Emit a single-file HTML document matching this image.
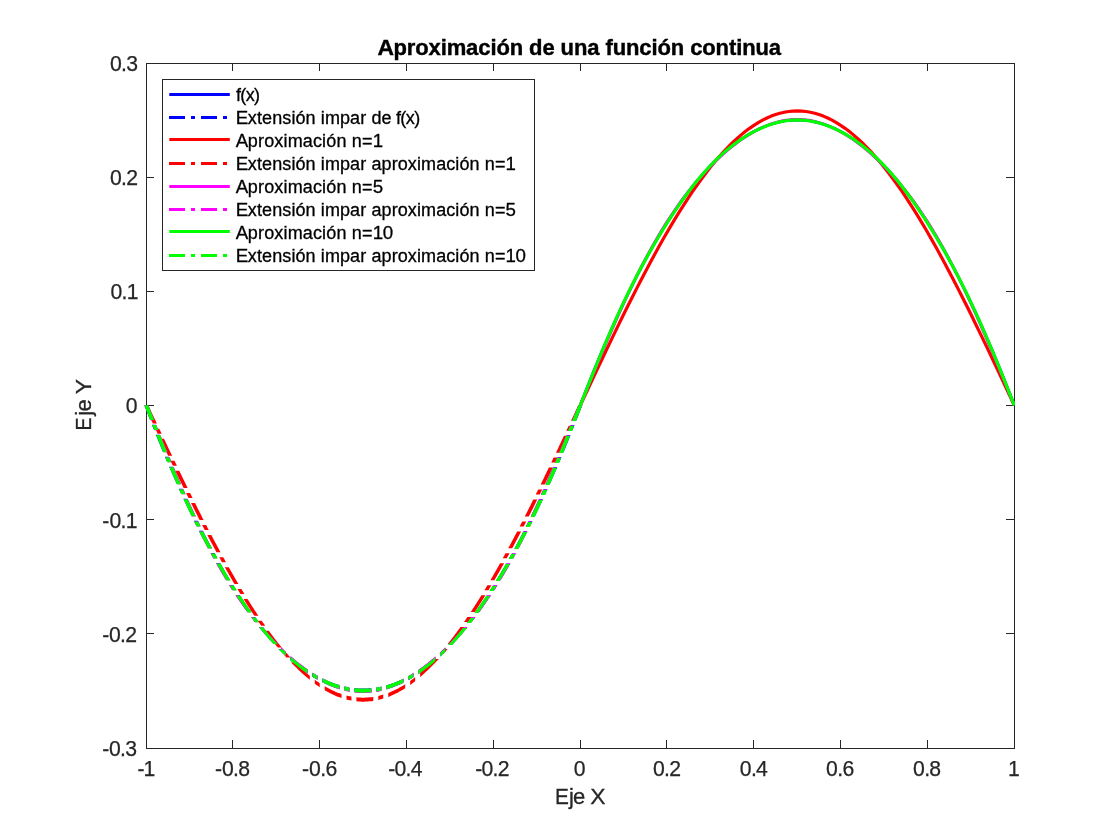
<!DOCTYPE html>
<html lang="es">
<head>
<meta charset="utf-8">
<title>Aproximación de una función continua</title>
<style>
html,body{margin:0;padding:0;background:#fff;}
body{width:1120px;height:840px;overflow:hidden;}
svg{display:block;}
text{white-space:pre;}
</style>
</head>
<body>
<svg width="1120" height="840" viewBox="0 0 1120 840">
<rect width="1120" height="840" fill="#fff"/>
<g stroke="#262626" stroke-width="1" fill="none" shape-rendering="crispEdges">
<rect x="146.5" y="63.5" width="868.0" height="685.0"/>
<path d="M232.5 748.5v-8.5M232.5 63.5v7.5M319.5 748.5v-8.5M319.5 63.5v7.5M406.5 748.5v-8.5M406.5 63.5v7.5M493.5 748.5v-8.5M493.5 63.5v7.5M580.5 748.5v-8.5M580.5 63.5v7.5M666.5 748.5v-8.5M666.5 63.5v7.5M753.5 748.5v-8.5M753.5 63.5v7.5M840.5 748.5v-8.5M840.5 63.5v7.5M927.5 748.5v-8.5M927.5 63.5v7.5M146.5 177.5h7.5M1014.5 177.5h-8.5M146.5 291.5h7.5M1014.5 291.5h-8.5M146.5 405.5h7.5M1014.5 405.5h-8.5M146.5 519.5h7.5M1014.5 519.5h-8.5M146.5 633.5h7.5M1014.5 633.5h-8.5"/>
</g>
<clipPath id="axclip"><rect x="140" y="60" width="875" height="692"/></clipPath>
<g fill="none" stroke-width="3.1" stroke-linejoin="round" clip-path="url(#axclip)">
<path stroke="#0000ff" stroke-width="2.6" d="M580.3 405.3 L584.64 394 L588.98 382.94 L593.32 372.1 L597.66 361.49 L602 351.1 L606.34 340.95 L610.68 331.02 L615.02 321.32 L619.36 311.85 L623.7 302.61 L628.04 293.6 L632.38 284.81 L636.72 276.25 L641.06 267.92 L645.4 259.82 L649.74 251.95 L654.08 244.3 L658.42 236.89 L662.76 229.7 L667.1 222.74 L671.44 216.01 L675.78 209.5 L680.12 203.23 L684.46 197.18 L688.8 191.36 L693.14 185.77 L697.48 180.41 L701.82 175.27 L706.16 170.37 L710.5 165.69 L714.84 161.24 L719.18 157.02 L723.52 153.02 L727.86 149.26 L732.2 145.72 L736.54 142.41 L740.88 139.33 L745.22 136.48 L749.56 133.86 L753.9 131.46 L758.24 129.29 L762.58 127.35 L766.92 125.64 L771.26 124.16 L775.6 122.9 L779.94 121.88 L784.28 121.08 L788.62 120.51 L792.96 120.16 L797.3 120.05 L801.64 120.16 L805.98 120.51 L810.32 121.08 L814.66 121.88 L819 122.9 L823.34 124.16 L827.68 125.64 L832.02 127.35 L836.36 129.29 L840.7 131.46 L845.04 133.86 L849.38 136.48 L853.72 139.33 L858.06 142.41 L862.4 145.72 L866.74 149.26 L871.08 153.02 L875.42 157.02 L879.76 161.24 L884.1 165.69 L888.44 170.37 L892.78 175.27 L897.12 180.41 L901.46 185.77 L905.8 191.36 L910.14 197.18 L914.48 203.23 L918.82 209.5 L923.16 216.01 L927.5 222.74 L931.84 229.7 L936.18 236.89 L940.52 244.3 L944.86 251.95 L949.2 259.82 L953.54 267.92 L957.88 276.25 L962.22 284.81 L966.56 293.6 L970.9 302.61 L975.24 311.85 L979.58 321.32 L983.92 331.02 L988.26 340.95 L992.6 351.1 L996.94 361.49 L1001.28 372.1 L1005.62 382.94 L1009.96 394 L1014.3 405.3"/>
<path fill="#0000ff" stroke="none" d="M582.25 405.3L581.54 407.15L580.83 409.01L580.11 410.86L579.4 412.72L578.69 414.57L577.98 416.42L577.25 418.28L576.52 420.13L572.62 420.13L573.35 418.28L574.08 416.42L574.79 414.57L575.5 412.72L576.21 410.86L576.93 409.01L577.64 407.15L578.35 405.3ZM574.56 425.14L573.9 426.81L573.24 428.48L572.57 430.15L568.67 430.15L569.34 428.48L570 426.81L570.66 425.14ZM570.57 435.16L569.81 437.06L569.05 438.95L568.27 440.84L567.5 442.74L566.72 444.63L565.95 446.52L565.18 448.41L564.39 450.31L563.6 452.2L559.7 452.2L560.49 450.31L561.28 448.41L562.05 446.52L562.82 444.63L563.6 442.74L564.37 440.84L565.15 438.95L565.91 437.06L566.67 435.16ZM561.51 457.21L560.81 458.88L560.1 460.55L559.39 462.22L555.49 462.22L556.2 460.55L556.91 458.88L557.61 457.21ZM557.24 467.23L556.44 469.13L555.61 471.02L554.79 472.91L553.96 474.8L553.13 476.7L552.3 478.59L551.47 480.48L550.62 482.38L549.77 484.27L545.87 484.27L546.72 482.38L547.57 480.48L548.4 478.59L549.23 476.7L550.06 474.8L550.89 472.91L551.71 471.02L552.54 469.13L553.34 467.23ZM547.53 489.28L546.76 490.95L546 492.62L545.23 494.29L541.33 494.29L542.1 492.62L542.86 490.95L543.63 489.28ZM542.93 499.3L542.04 501.19L541.15 503.09L540.26 504.98L539.37 506.87L538.48 508.77L537.56 510.66L536.65 512.55L535.74 514.45L534.83 516.34L530.93 516.34L531.84 514.45L532.75 512.55L533.66 510.66L534.58 508.77L535.47 506.87L536.36 504.98L537.25 503.09L538.14 501.19L539.03 499.3ZM532.36 521.35L531.54 523.02L530.71 524.69L529.88 526.36L525.98 526.36L526.81 524.69L527.64 523.02L528.46 521.35ZM527.34 531.37L526.38 533.26L525.41 535.16L524.42 537.05L523.44 538.94L522.45 540.84L521.46 542.73L520.45 544.62L519.43 546.51L518.42 548.41L514.52 548.41L515.53 546.51L516.55 544.62L517.56 542.73L518.55 540.84L519.54 538.94L520.52 537.05L521.51 535.16L522.48 533.26L523.44 531.37ZM515.69 553.42L514.77 555.09L513.85 556.76L512.93 558.43L509.03 558.43L509.95 556.76L510.87 555.09L511.79 553.42ZM510.09 563.44L509.02 565.33L507.93 567.22L506.82 569.12L505.71 571.01L504.6 572.9L503.47 574.8L502.33 576.69L501.19 578.58L500.05 580.48L496.15 580.48L497.29 578.58L498.43 576.69L499.57 574.8L500.7 572.9L501.81 571.01L502.92 569.12L504.03 567.22L505.12 565.33L506.19 563.44ZM496.93 585.49L495.89 587.16L494.83 588.83L493.75 590.5L489.85 590.5L490.93 588.83L491.99 587.16L493.03 585.49ZM490.5 595.51L489.24 597.4L487.97 599.29L486.71 601.19L485.4 603.08L484.09 604.97L482.78 606.87L481.43 608.76L480.08 610.65L478.72 612.54L474.82 612.54L476.18 610.65L477.53 608.76L478.88 606.87L480.19 604.97L481.5 603.08L482.81 601.19L484.07 599.29L485.34 597.4L486.6 595.51ZM475 617.56L473.76 619.23L472.46 620.9L471.17 622.57L467.27 622.57L468.56 620.9L469.86 619.23L471.1 617.56ZM467.19 627.58L465.65 629.47L464.08 631.36L462.48 633.26L460.88 635.15L459.21 637.04L457.54 638.93L455.84 640.83L454.08 642.72L452.33 644.61L448.43 644.61L450.18 642.72L451.94 640.83L453.64 638.93L455.31 637.04L456.98 635.15L458.58 633.26L460.18 631.36L461.75 629.47L463.29 627.58ZM445.5 651.57L443.83 653.19L442.16 654.82L440.49 656.39L440.49 652.49L442.16 650.92L443.83 649.29L445.5 647.67ZM435.47 660.92L433.58 662.56L431.69 664.15L429.8 665.69L427.9 667.21L426.01 668.65L424.12 670.09L422.22 671.44L420.33 672.78L418.44 674.06L418.44 670.16L420.33 668.88L422.22 667.54L424.12 666.19L426.01 664.75L427.9 663.31L429.8 661.79L431.69 660.25L433.58 658.66L435.47 657.02ZM413.43 677.25L411.76 678.26L410.09 679.22L408.42 680.14L408.42 676.24L410.09 675.32L411.76 674.36L413.43 673.35ZM403.41 682.74L401.51 683.64L399.62 684.48L397.73 685.31L395.83 686.06L393.94 686.81L392.05 687.47L390.16 688.11L388.26 688.7L386.37 689.25L386.37 685.35L388.26 684.8L390.16 684.21L392.05 683.57L393.94 682.91L395.83 682.16L397.73 681.41L399.62 680.58L401.51 679.74L403.41 678.84ZM381.36 690.51L379.69 690.85L378.02 691.16L376.35 691.47L376.35 687.57L378.02 687.26L379.69 686.95L381.36 686.61ZM371.34 692.09L369.44 692.24L367.55 692.39L365.66 692.44L363.77 692.49L361.88 692.46L359.99 692.41L358.1 692.32L356.21 692.17L354.33 692L354.33 688.1L356.21 688.27L358.1 688.42L359.99 688.51L361.88 688.56L363.77 688.59L365.66 688.54L367.55 688.49L369.44 688.34L371.34 688.19ZM349.33 691.3L347.66 690.99L346 690.68L344.33 690.29L344.33 686.39L346 686.78L347.66 687.09L349.33 687.4ZM339.33 688.99L337.45 688.45L335.56 687.81L333.67 687.17L331.78 686.46L329.9 685.72L328.01 684.94L326.12 684.1L324.23 683.25L322.34 682.31L322.34 678.41L324.23 679.35L326.12 680.2L328.01 681.04L329.9 681.82L331.78 682.56L333.67 683.27L335.56 683.91L337.45 684.55L339.33 685.09ZM317.35 679.68L315.68 678.76L314.02 677.76L312.35 676.75L312.35 672.85L314.02 673.86L315.68 674.86L317.35 675.78ZM307.35 673.53L305.47 672.21L303.58 670.87L301.69 669.49L299.8 668.05L297.92 666.6L296.03 665.06L294.14 663.52L292.25 661.9L290.36 660.26L290.36 656.36L292.25 658L294.14 659.62L296.03 661.16L297.92 662.7L299.8 664.15L301.69 665.59L303.58 666.97L305.47 668.31L307.35 669.63ZM285.37 655.7L283.7 654.09L282.04 652.47L278.43 648.89L282.33 648.89L282.04 648.57L283.7 650.19L285.37 651.8ZM273.61 643.89L271.86 642.01L270.11 640.12L268.44 638.23L266.77 636.34L265.13 634.45L263.54 632.57L261.94 630.68L260.4 628.79L258.87 626.9L262.77 626.9L264.3 628.79L265.84 630.68L267.44 632.57L269.03 634.45L270.67 636.34L272.34 638.23L274.01 640.12L275.76 642.01L277.51 643.89ZM254.92 621.91L253.63 620.24L252.36 618.58L251.11 616.91L255.01 616.91L256.26 618.58L257.53 620.24L258.82 621.91ZM247.43 611.91L246.08 610.03L244.72 608.14L243.39 606.25L242.09 604.36L240.78 602.47L239.49 600.59L238.23 598.7L236.97 596.81L235.71 594.92L239.61 594.92L240.87 596.81L242.13 598.7L243.39 600.59L244.68 602.47L245.99 604.36L247.29 606.25L248.62 608.14L249.98 610.03L251.33 611.91ZM232.48 589.93L231.41 588.26L230.36 586.6L229.32 584.93L233.22 584.93L234.26 586.6L235.31 588.26L236.38 589.93ZM226.23 579.93L225.09 578.05L223.95 576.16L222.81 574.27L221.69 572.38L220.59 570.49L219.48 568.6L218.37 566.71L217.29 564.82L216.22 562.93L220.12 562.93L221.19 564.82L222.27 566.71L223.38 568.6L224.49 570.49L225.59 572.38L226.71 574.27L227.85 576.16L228.99 578.05L230.13 579.93ZM213.39 557.92L212.46 556.25L211.54 554.58L210.62 552.91L214.52 552.91L215.44 554.58L216.36 556.25L217.29 557.92ZM207.91 547.9L206.89 546L205.88 544.11L204.87 542.22L203.88 540.32L202.9 538.43L201.91 536.54L200.93 534.64L199.96 532.75L199 530.86L202.9 530.86L203.86 532.75L204.83 534.64L205.81 536.54L206.8 538.43L207.78 540.32L208.77 542.22L209.78 544.11L210.79 546L211.81 547.9ZM196.46 525.85L195.63 524.18L194.81 522.51L193.98 520.84L197.88 520.84L198.71 522.51L199.53 524.18L200.36 525.85ZM191.52 515.83L190.61 513.93L189.7 512.04L188.79 510.15L187.88 508.25L186.99 506.36L186.1 504.47L185.21 502.58L184.32 500.68L183.43 498.79L187.33 498.79L188.22 500.68L189.11 502.58L190 504.47L190.89 506.36L191.78 508.25L192.69 510.15L193.6 512.04L194.51 513.93L195.42 515.83ZM181.13 493.78L180.37 492.11L179.6 490.44L178.84 488.77L182.74 488.77L183.5 490.44L184.27 492.11L185.03 493.78ZM176.6 483.76L175.75 481.87L174.91 479.97L174.07 478.08L173.25 476.19L172.42 474.29L171.59 472.4L170.76 470.51L169.95 468.61L169.14 466.72L173.04 466.72L173.85 468.61L174.66 470.51L175.49 472.4L176.32 474.29L177.15 476.19L177.97 478.08L178.81 479.97L179.65 481.87L180.5 483.76ZM167 461.71L166.28 460.04L165.58 458.37L164.88 456.7L168.78 456.7L169.48 458.37L170.18 460.04L170.9 461.71ZM162.79 451.69L162 449.8L161.21 447.9L160.44 446.01L159.67 444.12L158.89 442.22L158.12 440.33L157.34 438.44L156.59 436.55L155.83 434.65L159.73 434.65L160.49 436.55L161.24 438.44L162.02 440.33L162.79 442.22L163.57 444.12L164.34 446.01L165.11 447.9L165.9 449.8L166.69 451.69ZM153.82 429.64L153.15 427.97L152.5 426.3L151.84 424.63L155.74 424.63L156.4 426.3L157.05 427.97L157.72 429.64ZM149.88 419.62L149.17 417.83L148.48 416.04L147.79 414.25L147.1 412.46L146.41 410.67L145.73 408.88L145.04 407.09L144.35 405.3L148.25 405.3L148.94 407.09L149.63 408.88L150.31 410.67L151 412.46L151.69 414.25L152.38 416.04L153.07 417.83L153.78 419.62Z"/>
<path stroke="#ff0000" stroke-width="3.2" d="M580.3 405.3 L584.64 396.05 L588.98 386.81 L593.32 377.6 L597.66 368.4 L602 359.25 L606.34 350.14 L610.68 341.08 L615.02 332.09 L619.36 323.17 L623.7 314.33 L628.04 305.58 L632.38 296.93 L636.72 288.38 L641.06 279.95 L645.4 271.65 L649.74 263.48 L654.08 255.44 L658.42 247.56 L662.76 239.83 L667.1 232.26 L671.44 224.87 L675.78 217.65 L680.12 210.62 L684.46 203.77 L688.8 197.13 L693.14 190.7 L697.48 184.47 L701.82 178.47 L706.16 172.68 L710.5 167.13 L714.84 161.81 L719.18 156.74 L723.52 151.9 L727.86 147.32 L732.2 142.99 L736.54 138.93 L740.88 135.12 L745.22 131.58 L749.56 128.31 L753.9 125.32 L758.24 122.6 L762.58 120.16 L766.92 118 L771.26 116.12 L775.6 114.53 L779.94 113.23 L784.28 112.21 L788.62 111.49 L792.96 111.05 L797.3 110.91 L801.64 111.05 L805.98 111.49 L810.32 112.21 L814.66 113.23 L819 114.53 L823.34 116.12 L827.68 118 L832.02 120.16 L836.36 122.6 L840.7 125.32 L845.04 128.31 L849.38 131.58 L853.72 135.12 L858.06 138.93 L862.4 142.99 L866.74 147.32 L871.08 151.9 L875.42 156.74 L879.76 161.81 L884.1 167.13 L888.44 172.68 L892.78 178.47 L897.12 184.47 L901.46 190.7 L905.8 197.13 L910.14 203.77 L914.48 210.62 L918.82 217.65 L923.16 224.87 L927.5 232.26 L931.84 239.83 L936.18 247.56 L940.52 255.44 L944.86 263.48 L949.2 271.65 L953.54 279.95 L957.88 288.38 L962.22 296.93 L966.56 305.58 L970.9 314.33 L975.24 323.17 L979.58 332.09 L983.92 341.08 L988.26 350.14 L992.6 359.25 L996.94 368.4 L1001.28 377.6 L1005.62 386.81 L1009.96 396.05 L1014.3 405.3"/>
<path fill="#ff0000" stroke="none" d="M582.3 405.3L581.39 407.23L580.49 409.16L579.58 411.09L578.67 413.02L577.77 414.96L576.86 416.89L575.95 418.82L575.05 420.75L571.05 420.75L571.95 418.82L572.86 416.89L573.77 414.96L574.67 413.02L575.58 411.09L576.49 409.16L577.39 407.23L578.3 405.3ZM572.7 425.73L571.92 427.39L571.14 429.05L570.36 430.71L566.36 430.71L567.14 429.05L567.92 427.39L568.7 425.73ZM568.01 435.7L567.12 437.58L566.23 439.46L565.34 441.35L564.45 443.23L563.56 445.11L562.67 446.99L561.77 448.88L560.88 450.76L559.99 452.64L555.99 452.64L556.88 450.76L557.77 448.88L558.67 446.99L559.56 445.11L560.45 443.23L561.34 441.35L562.23 439.46L563.12 437.58L564.01 435.7ZM557.61 457.62L556.82 459.29L556.03 460.95L555.23 462.61L551.23 462.61L552.03 460.95L552.82 459.29L553.61 457.62ZM552.84 467.59L551.94 469.47L551.03 471.36L550.13 473.24L549.22 475.12L548.31 477L547.4 478.89L546.48 480.77L545.57 482.65L544.65 484.53L540.65 484.53L541.57 482.65L542.48 480.77L543.4 478.89L544.31 477L545.22 475.12L546.13 473.24L547.03 471.36L547.94 469.47L548.84 467.59ZM542.22 489.52L541.4 491.18L540.59 492.84L539.77 494.5L535.77 494.5L536.59 492.84L537.4 491.18L538.22 489.52ZM537.31 499.48L536.37 501.37L535.44 503.25L534.51 505.13L533.56 507.01L532.62 508.9L531.67 510.78L530.73 512.66L529.78 514.54L528.82 516.43L524.82 516.43L525.78 514.54L526.73 512.66L527.67 510.78L528.62 508.9L529.56 507.01L530.51 505.13L531.44 503.25L532.37 501.37L533.31 499.48ZM526.29 521.41L525.44 523.07L524.59 524.73L523.73 526.39L519.73 526.39L520.59 524.73L521.44 523.07L522.29 521.41ZM521.16 531.38L520.17 533.26L519.19 535.14L518.21 537.02L517.22 538.91L516.22 540.79L515.22 542.67L514.22 544.55L513.23 546.44L512.21 548.32L508.21 548.32L509.23 546.44L510.22 544.55L511.22 542.67L512.22 540.79L513.22 538.91L514.21 537.02L515.19 535.14L516.17 533.26L517.16 531.38ZM509.52 553.3L508.62 554.96L507.71 556.62L506.8 558.29L502.8 558.29L503.71 556.62L504.62 554.96L505.52 553.3ZM504.05 563.27L503 565.15L501.94 567.03L500.88 568.92L499.82 570.8L498.74 572.68L497.67 574.56L496.59 576.45L495.51 578.33L494.4 580.21L490.4 580.21L491.51 578.33L492.59 576.45L493.67 574.56L494.74 572.68L495.82 570.8L496.88 568.92L497.94 567.03L499 565.15L500.05 563.27ZM491.48 585.2L490.49 586.86L489.49 588.52L488.49 590.18L484.49 590.18L485.49 588.52L486.49 586.86L487.48 585.2ZM485.46 595.16L484.29 597.04L483.13 598.93L481.96 600.81L480.76 602.69L479.57 604.57L478.37 606.46L477.15 608.34L475.92 610.22L474.69 612.11L470.69 612.11L471.92 610.22L473.15 608.34L474.37 606.46L475.57 604.57L476.76 602.69L477.96 600.81L479.13 598.93L480.29 597.04L481.46 595.16ZM471.36 617.09L470.24 618.75L469.11 620.41L467.95 622.07L463.95 622.07L465.11 620.41L466.24 618.75L467.36 617.09ZM464.45 627.05L463.09 628.94L461.73 630.82L460.35 632.7L458.94 634.59L457.53 636.47L456.1 638.35L454.63 640.23L453.16 642.12L451.67 644L447.67 644L449.16 642.12L450.63 640.23L452.1 638.35L453.53 636.47L454.94 634.59L456.35 632.7L457.73 630.82L459.09 628.94L460.45 627.05ZM447.59 648.98L446.17 650.64L444.75 652.3L443.33 653.96L439.33 653.96L440.75 652.3L442.17 650.64L443.59 648.98ZM438.84 658.95L437.06 660.83L435.27 662.71L431.42 666.59L429.54 668.47L427.66 670.3L425.77 672.07L423.89 673.82L422.01 675.47L420.13 677.12L420.13 673.12L422.01 671.47L423.89 669.82L425.77 668.07L427.66 666.3L429.54 664.47L431.42 662.59L431.27 662.71L433.06 660.83L434.84 658.95ZM415.14 681.2L413.48 682.45L411.82 683.7L410.16 684.9L410.16 680.9L411.82 679.7L413.48 678.45L415.14 677.2ZM405.18 688.24L403.29 689.42L401.41 690.54L399.53 691.59L397.65 692.63L395.76 693.57L393.88 694.5L392 695.33L390.12 696.14L388.23 696.88L388.23 692.88L390.12 692.14L392 691.33L393.88 690.5L395.76 689.57L397.65 688.63L399.53 687.59L401.41 686.54L403.29 685.42L405.18 684.24ZM383.25 698.59L381.59 699.09L379.93 699.54L378.27 699.93L378.27 695.93L379.93 695.54L381.59 695.09L383.25 694.59ZM373.28 700.89L371.4 701.17L369.52 701.36L367.64 701.55L365.75 701.61L363.87 701.67L362 701.65L360.12 701.59L358.25 701.48L356.38 701.29L356.38 697.29L358.25 697.48L360.12 697.59L362 697.65L363.87 697.67L365.75 697.61L367.64 697.55L369.52 697.36L371.4 697.17L373.28 696.89ZM351.43 700.58L349.77 700.27L348.12 699.88L346.47 699.5L346.47 695.5L348.12 695.88L349.77 696.27L351.43 696.58ZM341.52 698.04L339.65 697.35L337.77 696.67L335.9 695.89L334.03 695.08L332.16 694.22L330.29 693.29L328.42 692.35L326.54 691.3L324.67 690.25L324.67 686.25L326.54 687.3L328.42 688.35L330.29 689.29L332.16 690.22L334.03 691.08L335.9 691.89L337.77 692.67L339.65 693.35L341.52 694.04ZM319.72 687.16L318.07 686.02L316.41 684.88L314.76 683.69L314.76 679.69L316.41 680.88L318.07 682.02L319.72 683.16ZM309.81 679.87L307.94 678.34L306.06 676.76L304.19 675.12L302.32 673.47L300.45 671.71L298.58 669.96L296.71 668.12L294.83 666.25L291.01 662.38L295.01 662.38L294.83 662.25L296.71 664.12L298.58 665.96L300.45 667.71L302.32 669.47L304.19 671.12L306.06 672.76L307.94 674.34L309.81 675.87ZM286.38 657.43L284.9 655.77L283.41 654.12L281.99 652.47L285.99 652.47L287.41 654.12L288.9 655.77L290.38 657.43ZM277.8 647.52L276.28 645.64L274.75 643.77L273.28 641.9L271.81 640.03L270.35 638.16L268.94 636.29L267.53 634.41L266.13 632.54L264.76 630.67L268.76 630.67L270.13 632.54L271.53 634.41L272.94 636.29L274.35 638.16L275.81 640.03L277.28 641.9L278.75 643.77L280.28 645.64L281.8 647.52ZM261.19 625.72L260.04 624.06L258.89 622.41L257.74 620.76L261.74 620.76L262.89 622.41L264.04 624.06L265.19 625.72ZM254.38 615.81L253.12 613.93L251.88 612.06L250.66 610.19L249.44 608.32L248.22 606.45L247.03 604.58L245.85 602.7L244.66 600.83L243.49 598.96L247.49 598.96L248.66 600.83L249.85 602.7L251.03 604.58L252.22 606.45L253.44 608.32L254.66 610.19L255.88 612.06L257.12 613.93L258.38 615.81ZM240.43 594.01L239.42 592.35L238.43 590.7L237.43 589.05L241.43 589.05L242.43 590.7L243.42 592.35L244.43 594.01ZM234.48 584.1L233.38 582.23L232.28 580.35L231.18 578.48L230.11 576.61L229.03 574.74L227.96 572.87L226.89 570.99L225.82 569.11L224.76 567.21L228.76 567.21L229.82 569.11L230.89 570.99L231.96 572.87L233.03 574.74L234.11 576.61L235.18 578.48L236.28 580.35L237.38 582.23L238.48 584.1ZM221.96 562.21L221.04 560.53L220.12 558.86L219.2 557.18L223.2 557.18L224.12 558.86L225.04 560.53L225.96 562.21ZM216.46 552.16L215.44 550.27L214.41 548.37L213.39 546.47L212.39 544.58L211.38 542.68L210.37 540.78L209.37 538.88L208.37 536.99L207.38 535.09L211.38 535.09L212.37 536.99L213.37 538.88L214.37 540.78L215.38 542.68L216.39 544.58L217.39 546.47L218.41 548.37L219.44 550.27L220.46 552.16ZM204.76 530.07L203.9 528.4L203.04 526.72L202.18 525.05L206.18 525.05L207.04 526.72L207.9 528.4L208.76 530.07ZM199.61 520.03L198.64 518.13L197.68 516.23L196.72 514.33L195.76 512.44L194.81 510.54L193.86 508.64L192.91 506.75L191.95 504.85L191.01 502.95L195.01 502.95L195.95 504.85L196.91 506.75L197.86 508.64L198.81 510.54L199.76 512.44L200.72 514.33L201.68 516.23L202.64 518.13L203.61 520.03ZM188.52 497.93L187.69 496.26L186.87 494.58L186.05 492.91L190.05 492.91L190.87 494.58L191.69 496.26L192.52 497.93ZM183.58 487.89L182.66 485.99L181.74 484.09L180.81 482.2L179.89 480.3L178.97 478.4L178.05 476.51L177.14 474.61L176.22 472.71L175.31 470.82L179.31 470.82L180.22 472.71L181.14 474.61L182.05 476.51L182.97 478.4L183.89 480.3L184.81 482.2L185.74 484.09L186.66 485.99L187.58 487.89ZM172.89 465.79L172.09 464.12L171.29 462.45L170.49 460.77L174.49 460.77L175.29 462.45L176.09 464.12L176.89 465.79ZM168.1 455.75L167.19 453.85L166.29 451.96L165.39 450.06L164.49 448.16L163.59 446.27L162.69 444.37L161.79 442.47L160.89 440.58L160 438.68L164 438.68L164.89 440.58L165.79 442.47L166.69 444.37L167.59 446.27L168.49 448.16L169.39 450.06L170.29 451.96L171.19 453.85L172.1 455.75ZM157.63 433.66L156.84 431.98L156.05 430.31L155.26 428.64L159.26 428.64L160.05 430.31L160.84 431.98L161.63 433.66ZM152.9 423.61L152.01 421.72L151.12 419.82L150.23 417.92L149.33 416.03L148.44 414.13L147.55 412.23L146.66 410.33L145.77 408.44L144.88 406.54L148.88 406.54L149.77 408.44L150.66 410.33L151.55 412.23L152.44 414.13L153.33 416.03L154.23 417.92L155.12 419.82L156.01 421.72L156.9 423.61Z"/>
<path stroke="#ff00ff" stroke-width="3.0" d="M580.3 405.3 L584.64 394.66 L588.98 384.04 L593.32 373.48 L597.66 363 L602 352.63 L606.34 342.39 L610.68 332.3 L615.02 322.38 L619.36 312.66 L623.7 303.15 L628.04 293.87 L632.38 284.82 L636.72 276.03 L641.06 267.49 L645.4 259.21 L649.74 251.21 L654.08 243.48 L658.42 236.01 L662.76 228.82 L667.1 221.89 L671.44 215.23 L675.78 208.82 L680.12 202.67 L684.46 196.76 L688.8 191.09 L693.14 185.65 L697.48 180.44 L701.82 175.45 L706.16 170.68 L710.5 166.12 L714.84 161.76 L719.18 157.61 L723.52 153.66 L727.86 149.91 L732.2 146.37 L736.54 143.02 L740.88 139.88 L745.22 136.95 L749.56 134.23 L753.9 131.73 L758.24 129.44 L762.58 127.38 L766.92 125.54 L771.26 123.94 L775.6 122.58 L779.94 121.46 L784.28 120.59 L788.62 119.96 L792.96 119.58 L797.3 119.46 L801.64 119.58 L805.98 119.96 L810.32 120.59 L814.66 121.46 L819 122.58 L823.34 123.94 L827.68 125.54 L832.02 127.38 L836.36 129.44 L840.7 131.73 L845.04 134.23 L849.38 136.95 L853.72 139.88 L858.06 143.02 L862.4 146.37 L866.74 149.91 L871.08 153.66 L875.42 157.61 L879.76 161.76 L884.1 166.12 L888.44 170.68 L892.78 175.45 L897.12 180.44 L901.46 185.65 L905.8 191.09 L910.14 196.76 L914.48 202.67 L918.82 208.82 L923.16 215.23 L927.5 221.89 L931.84 228.82 L936.18 236.01 L940.52 243.48 L944.86 251.21 L949.2 259.21 L953.54 267.49 L957.88 276.03 L962.22 284.82 L966.56 293.87 L970.9 303.15 L975.24 312.66 L979.58 322.38 L983.92 332.3 L988.26 342.39 L992.6 352.63 L996.94 363 L1001.28 373.48 L1005.62 384.04 L1009.96 394.66 L1014.3 405.3"/>
<path fill="#ff00ff" stroke="none" d="M582.3 405.3L581.51 407.23L580.72 409.17L579.94 411.1L579.15 413.03L578.36 414.96L577.57 416.9L576.78 418.83L575.99 420.76L571.99 420.76L572.78 418.83L573.57 416.9L574.36 414.96L575.15 413.03L575.94 411.1L576.72 409.17L577.51 407.23L578.3 405.3ZM573.95 425.75L573.27 427.41L572.58 429.07L571.9 430.74L567.9 430.74L568.58 429.07L569.27 427.41L569.95 425.75ZM569.85 435.73L569.08 437.61L568.3 439.49L567.51 441.38L566.73 443.26L565.95 445.15L565.17 447.03L564.39 448.92L563.6 450.8L562.81 452.68L558.81 452.68L559.6 450.8L560.39 448.92L561.17 447.03L561.95 445.15L562.73 443.26L563.51 441.38L564.3 439.49L565.08 437.61L565.85 435.73ZM560.72 457.67L560.02 459.33L559.32 461L558.61 462.66L554.61 462.66L555.32 461L556.02 459.33L556.72 457.67ZM556.5 467.65L555.69 469.53L554.88 471.42L554.07 473.3L553.26 475.18L552.45 477.07L551.63 478.95L550.81 480.84L549.99 482.72L549.16 484.61L545.16 484.61L545.99 482.72L546.81 480.84L547.63 478.95L548.45 477.07L549.26 475.18L550.07 473.3L550.88 471.42L551.69 469.53L552.5 467.65ZM546.97 489.59L546.22 491.26L545.48 492.92L544.74 494.58L540.74 494.58L541.48 492.92L542.22 491.26L542.97 489.59ZM542.5 499.57L541.64 501.45L540.78 503.34L539.92 505.22L539.06 507.11L538.18 508.99L537.3 510.87L536.42 512.76L535.54 514.64L534.66 516.53L530.66 516.53L531.54 514.64L532.42 512.76L533.3 510.87L534.18 508.99L535.06 507.11L535.92 505.22L536.78 503.34L537.64 501.45L538.5 499.57ZM532.27 521.51L531.47 523.18L530.67 524.84L529.86 526.5L525.86 526.5L526.67 524.84L527.47 523.18L528.27 521.51ZM527.4 531.49L526.47 533.37L525.53 535.26L524.57 537.14L523.62 539.03L522.66 540.91L521.7 542.8L520.72 544.68L519.73 546.56L518.74 548.45L514.74 548.45L515.73 546.56L516.72 544.68L517.7 542.8L518.66 540.91L519.62 539.03L520.57 537.14L521.53 535.26L522.47 533.37L523.4 531.49ZM516.09 553.44L515.19 555.1L514.29 556.76L513.38 558.42L509.38 558.42L510.29 556.76L511.19 555.1L512.09 553.44ZM510.6 563.41L509.55 565.3L508.49 567.18L507.39 569.06L506.3 570.95L505.2 572.83L504.1 574.72L502.97 576.6L501.83 578.49L500.69 580.37L496.69 580.37L497.83 578.49L498.97 576.6L500.1 574.72L501.2 572.83L502.3 570.95L503.39 569.06L504.49 567.18L505.55 565.3L506.6 563.41ZM497.6 585.36L496.56 587.02L495.52 588.68L494.43 590.35L490.43 590.35L491.52 588.68L492.56 587.02L493.6 585.36ZM491.19 595.33L489.91 597.22L488.63 599.1L487.36 600.99L486.05 602.87L484.72 604.75L483.39 606.64L482.05 608.52L480.66 610.41L479.28 612.29L475.28 612.29L476.66 610.41L478.05 608.52L479.39 606.64L480.72 604.75L482.05 602.87L483.36 600.99L484.63 599.1L485.91 597.22L487.19 595.33ZM475.51 617.28L474.24 618.94L472.93 620.6L471.6 622.27L467.6 622.27L468.93 620.6L470.24 618.94L471.51 617.28ZM467.54 627.26L465.97 629.14L464.37 631.02L462.73 632.91L461.09 634.79L459.39 636.68L457.68 638.56L455.94 640.45L454.15 642.33L452.36 644.21L448.36 644.21L450.15 642.33L451.94 640.45L453.68 638.56L455.39 636.68L457.09 634.79L458.73 632.91L460.37 631.02L461.97 629.14L463.54 627.26ZM445.4 651.19L443.73 652.78L442.07 654.37L440.41 655.91L440.41 651.91L442.07 650.37L443.73 648.78L445.4 647.19ZM435.42 660.37L433.54 662L431.65 663.58L429.77 665.12L427.88 666.63L426 668.08L424.12 669.54L422.23 670.9L420.35 672.26L418.46 673.57L418.46 669.57L420.35 668.26L422.23 666.9L424.12 665.54L426 664.08L427.88 662.63L429.77 661.12L431.65 659.58L433.54 658L435.42 656.37ZM413.48 676.84L411.81 677.88L410.15 678.88L408.49 679.84L408.49 675.84L410.15 674.88L411.81 673.88L413.48 672.84ZM403.5 682.56L401.62 683.51L399.73 684.41L397.85 685.3L395.96 686.09L394.08 686.89L392.19 687.6L390.31 688.3L388.43 688.94L386.54 689.53L386.54 685.53L388.43 684.94L390.31 684.3L392.19 683.6L394.08 682.89L395.96 682.09L397.85 681.3L399.73 680.41L401.62 679.51L403.5 678.56ZM381.55 690.91L379.89 691.29L378.23 691.63L376.57 691.96L376.57 687.96L378.23 687.63L379.89 687.29L381.55 686.91ZM371.58 692.68L369.69 692.84L367.81 693L365.93 693.07L364.04 693.12L362.16 693.11L360.28 693.06L358.4 692.97L356.52 692.81L354.64 692.64L354.64 688.64L356.52 688.81L358.4 688.97L360.28 689.06L362.16 689.11L364.04 689.12L365.93 689.07L367.81 689L369.69 688.84L371.58 688.68ZM349.67 691.89L348.01 691.56L346.35 691.22L344.69 690.82L344.69 686.82L346.35 687.22L348.01 687.56L349.67 687.89ZM339.71 689.43L337.83 688.84L335.95 688.17L334.08 687.48L332.2 686.75L330.32 685.96L328.44 685.15L326.56 684.26L324.68 683.37L322.8 682.4L322.8 678.4L324.68 679.37L326.56 680.26L328.44 681.15L330.32 681.96L332.2 682.75L334.08 683.48L335.95 684.17L337.83 684.84L339.71 685.43ZM317.82 679.67L316.16 678.72L314.5 677.71L312.85 676.67L312.85 672.67L314.5 673.71L316.16 674.72L317.82 675.67ZM307.87 673.39L305.99 672.07L304.11 670.71L302.23 669.34L300.35 667.89L298.47 666.44L296.59 664.92L294.71 663.38L292.83 661.8L290.95 660.18L290.95 656.18L292.83 657.8L294.71 659.38L296.59 660.92L298.47 662.44L300.35 663.89L302.23 665.34L304.11 666.71L305.99 668.07L307.87 669.39ZM285.98 655.72L284.32 654.17L282.66 652.58L281 650.99L281 646.99L282.66 648.58L284.32 650.17L285.98 651.72ZM274.06 644.02L272.28 642.15L270.49 640.27L268.77 638.39L267.06 636.51L265.37 634.63L263.73 632.75L262.1 630.87L260.51 628.99L258.94 627.11L262.94 627.11L264.51 628.99L266.1 630.87L267.73 632.75L269.37 634.63L271.06 636.51L272.77 638.39L274.49 640.27L276.28 642.15L278.06 644.02ZM254.89 622.13L253.57 620.47L252.27 618.82L251 617.16L255 617.16L256.27 618.82L257.57 620.47L258.89 622.13ZM247.24 612.18L245.86 610.3L244.48 608.42L243.14 606.54L241.81 604.66L240.49 602.78L239.19 600.9L237.91 599.02L236.64 597.14L235.37 595.26L239.37 595.26L240.64 597.14L241.91 599.02L243.19 600.9L244.49 602.78L245.81 604.66L247.14 606.54L248.48 608.42L249.86 610.3L251.24 612.18ZM232.13 590.29L231.05 588.63L230.01 586.97L228.97 585.31L232.97 585.31L234.01 586.97L235.05 588.63L236.13 590.29ZM225.89 580.34L224.75 578.46L223.62 576.58L222.49 574.7L221.39 572.82L220.3 570.94L219.2 569.05L218.11 567.17L217.05 565.28L215.99 563.4L219.99 563.4L221.05 565.28L222.11 567.17L223.2 569.05L224.3 570.94L225.39 572.82L226.49 574.7L227.62 576.58L228.75 578.46L229.89 580.34ZM213.2 558.39L212.3 556.73L211.39 555.06L210.49 553.39L214.49 553.39L215.39 555.06L216.3 556.73L217.2 558.39ZM207.83 548.39L206.84 546.5L205.85 544.61L204.86 542.72L203.9 540.83L202.94 538.94L201.98 537.05L201.02 535.16L200.08 533.27L199.15 531.39L203.15 531.39L204.08 533.27L205.02 535.16L205.98 537.05L206.94 538.94L207.9 540.83L208.86 542.72L209.85 544.61L210.84 546.5L211.83 548.39ZM196.68 526.38L195.87 524.72L195.07 523.05L194.27 521.38L198.27 521.38L199.07 523.05L199.87 524.72L200.68 526.38ZM191.88 516.38L190.99 514.49L190.11 512.6L189.23 510.71L188.34 508.82L187.46 506.93L186.6 505.04L185.74 503.15L184.88 501.26L184.02 499.38L188.02 499.38L188.88 501.26L189.74 503.15L190.6 505.04L191.46 506.93L192.34 508.82L193.23 510.71L194.11 512.6L194.99 514.49L195.88 516.38ZM181.77 494.37L181.02 492.71L180.28 491.04L179.54 489.37L183.54 489.37L184.28 491.04L185.02 492.71L185.77 494.37ZM177.34 484.37L176.51 482.48L175.68 480.59L174.86 478.7L174.04 476.81L173.23 474.92L172.41 473.03L171.6 471.14L170.79 469.26L169.98 467.37L173.98 467.37L174.79 469.26L175.6 471.14L176.41 473.03L177.23 474.92L178.04 476.81L178.86 478.7L179.68 480.59L180.51 482.48L181.34 484.37ZM167.86 462.36L167.16 460.7L166.45 459.03L165.75 457.36L169.75 457.36L170.45 459.03L171.16 460.7L171.86 462.36ZM163.65 452.36L162.86 450.47L162.07 448.58L161.29 446.69L160.5 444.8L159.72 442.91L158.94 441.02L158.16 439.13L157.37 437.25L156.6 435.36L160.6 435.36L161.37 437.25L162.16 439.13L162.94 441.02L163.72 442.91L164.5 444.8L165.29 446.69L166.07 448.58L166.86 450.47L167.65 452.36ZM154.54 430.35L153.86 428.69L153.17 427.02L152.49 425.35L156.49 425.35L157.17 427.02L157.86 428.69L158.54 430.35ZM150.44 420.35L149.67 418.47L148.9 416.59L148.14 414.71L147.37 412.83L146.6 410.94L145.83 409.06L145.07 407.18L144.3 405.3L148.3 405.3L149.07 407.18L149.83 409.06L150.6 410.94L151.37 412.83L152.14 414.71L152.9 416.59L153.67 418.47L154.44 420.35Z"/>
<path stroke="#00ff00" stroke-width="3.2" d="M580.3 405.3 L584.64 394.36 L588.98 383.46 L593.32 372.66 L597.66 361.98 L602 351.47 L606.34 341.16 L610.68 331.07 L615.02 321.23 L619.36 311.65 L623.7 302.33 L628.04 293.29 L632.38 284.51 L636.72 275.99 L641.06 267.73 L645.4 259.71 L649.74 251.92 L654.08 244.36 L658.42 237.01 L662.76 229.88 L667.1 222.94 L671.44 216.22 L675.78 209.7 L680.12 203.39 L684.46 197.29 L688.8 191.41 L693.14 185.76 L697.48 180.34 L701.82 175.16 L706.16 170.22 L710.5 165.53 L714.84 161.08 L719.18 156.87 L723.52 152.91 L727.86 149.19 L732.2 145.7 L736.54 142.44 L740.88 139.41 L745.22 136.59 L749.56 133.99 L753.9 131.61 L758.24 129.43 L762.58 127.47 L766.92 125.73 L771.26 124.21 L775.6 122.91 L779.94 121.84 L784.28 121 L788.62 120.39 L792.96 120.03 L797.3 119.91 L801.64 120.03 L805.98 120.39 L810.32 121 L814.66 121.84 L819 122.91 L823.34 124.21 L827.68 125.73 L832.02 127.47 L836.36 129.43 L840.7 131.61 L845.04 133.99 L849.38 136.59 L853.72 139.41 L858.06 142.44 L862.4 145.7 L866.74 149.19 L871.08 152.91 L875.42 156.87 L879.76 161.08 L884.1 165.53 L888.44 170.22 L892.78 175.16 L897.12 180.34 L901.46 185.76 L905.8 191.41 L910.14 197.29 L914.48 203.39 L918.82 209.7 L923.16 216.22 L927.5 222.94 L931.84 229.88 L936.18 237.01 L940.52 244.36 L944.86 251.92 L949.2 259.71 L953.54 267.73 L957.88 275.99 L962.22 284.51 L966.56 293.29 L970.9 302.33 L975.24 311.65 L979.58 321.23 L983.92 331.07 L988.26 341.16 L992.6 351.47 L996.94 361.98 L1001.28 372.66 L1005.62 383.46 L1009.96 394.36 L1014.3 405.3"/>
<path fill="#00ff00" stroke="none" d="M582.3 405.3L581.52 407.26L580.74 409.23L579.96 411.19L579.19 413.15L578.41 415.11L577.63 417.07L576.85 419.04L576.06 421L572.06 421L572.85 419.04L573.63 417.07L574.41 415.11L575.19 413.15L575.96 411.19L576.74 409.23L577.52 407.26L578.3 405.3ZM574.07 426L573.41 427.67L572.74 429.33L572.07 431L568.07 431L568.74 429.33L569.41 427.67L570.07 426ZM570.06 436L569.3 437.89L568.53 439.78L567.77 441.67L567 443.56L566.23 445.44L565.46 447.33L564.69 449.22L563.91 451.11L563.13 453L559.13 453L559.91 451.11L560.69 449.22L561.46 447.33L562.23 445.44L563 443.56L563.77 441.67L564.53 439.78L565.3 437.89L566.06 436ZM561.07 458L560.37 459.67L559.67 461.33L558.97 463L554.97 463L555.67 461.33L556.37 459.67L557.07 458ZM556.87 468L556.07 469.89L555.26 471.78L554.44 473.67L553.63 475.56L552.82 477.44L552 479.33L551.17 481.22L550.34 483.11L549.51 485L545.51 485L546.34 483.11L547.17 481.22L548 479.33L548.82 477.44L549.63 475.56L550.44 473.67L551.26 471.78L552.07 469.89L552.87 468ZM547.29 490L546.54 491.67L545.79 493.33L545.03 495L541.03 495L541.79 493.33L542.54 491.67L543.29 490ZM542.75 500L541.87 501.89L540.99 503.78L540.11 505.67L539.23 507.56L538.34 509.44L537.43 511.33L536.52 513.22L535.62 515.11L534.71 517L530.71 517L531.62 515.11L532.52 513.22L533.43 511.33L534.34 509.44L535.23 507.56L536.11 505.67L536.99 503.78L537.87 501.89L538.75 500ZM532.24 522L531.42 523.67L530.59 525.33L529.76 527L525.76 527L526.59 525.33L527.42 523.67L528.24 522ZM527.21 532L526.25 533.89L525.27 535.78L524.27 537.67L523.28 539.56L522.29 541.44L521.29 543.33L520.27 545.22L519.25 547.11L518.22 549L514.22 549L515.25 547.11L516.27 545.22L517.29 543.33L518.29 541.44L519.28 539.56L520.27 537.67L521.27 535.78L522.25 533.89L523.21 532ZM515.47 554L514.54 555.67L513.61 557.33L512.68 559L508.68 559L509.61 557.33L510.54 555.67L511.47 554ZM509.81 564L508.72 565.89L507.61 567.78L506.5 569.67L505.38 571.56L504.26 573.44L503.12 575.33L501.97 577.22L500.82 579.11L499.67 581L495.67 581L496.82 579.11L497.97 577.22L499.12 575.33L500.26 573.44L501.38 571.56L502.5 569.67L503.61 567.78L504.72 565.89L505.81 564ZM496.54 586L495.49 587.67L494.42 589.33L493.34 591L489.34 591L490.42 589.33L491.49 587.67L492.54 586ZM490.08 596L488.83 597.89L487.57 599.78L486.29 601.67L485 603.56L483.7 605.44L482.4 607.33L481.05 609.22L479.71 611.11L478.36 613L474.36 613L475.71 611.11L477.05 609.22L478.4 607.33L479.7 605.44L481 603.56L482.29 601.67L483.57 599.78L484.83 597.89L486.08 596ZM474.68 618L473.43 619.67L472.15 621.33L470.87 623L466.87 623L468.15 621.33L469.43 619.67L470.68 618ZM466.93 628L465.42 629.89L463.85 631.78L462.27 633.67L460.68 635.56L459.02 637.44L457.36 639.33L455.66 641.22L453.92 643.11L452.17 645L448.17 645L449.92 643.11L451.66 641.22L453.36 639.33L455.02 637.44L456.68 635.56L458.27 633.67L459.85 631.78L461.42 629.89L462.93 628ZM445.28 651.98L443.62 653.6L441.95 655.21L440.28 656.76L440.28 652.76L441.95 651.21L443.62 649.6L445.28 647.98ZM435.28 661.23L433.39 662.85L431.5 664.4L429.62 665.92L427.73 667.4L425.84 668.82L423.95 670.24L422.06 671.56L420.17 672.88L418.28 674.13L418.28 670.13L420.17 668.88L422.06 667.56L423.95 666.24L425.84 664.82L427.73 663.4L429.62 661.92L431.5 660.4L433.39 658.85L435.28 657.23ZM413.28 677.27L411.62 678.26L409.95 679.21L408.28 680.12L408.28 676.12L409.95 675.21L411.62 674.26L413.28 673.27ZM403.28 682.71L401.39 683.6L399.5 684.46L397.62 685.29L395.73 686.05L393.84 686.81L391.95 687.48L390.06 688.14L388.17 688.74L386.28 689.31L386.28 685.31L388.17 684.74L390.06 684.14L391.95 683.48L393.84 682.81L395.73 682.05L397.62 681.29L399.5 680.46L401.39 679.6L403.28 678.71ZM381.28 690.61L379.62 690.96L377.95 691.29L376.28 691.61L376.28 687.61L377.95 687.29L379.62 686.96L381.28 686.61ZM371.28 692.26L369.39 692.42L367.5 692.57L365.62 692.62L363.73 692.68L361.84 692.65L359.96 692.6L358.08 692.49L356.2 692.34L354.32 692.16L354.32 688.16L356.2 688.34L358.08 688.49L359.96 688.6L361.84 688.65L363.73 688.68L365.62 688.62L367.5 688.57L369.39 688.42L371.28 688.26ZM349.33 691.42L347.67 691.1L346.01 690.78L344.35 690.37L344.35 686.37L346.01 686.78L347.67 687.1L349.33 687.42ZM339.37 689.02L337.49 688.46L335.61 687.81L333.72 687.15L331.84 686.44L329.96 685.68L328.08 684.9L326.2 684.05L324.31 683.2L322.43 682.26L322.43 678.26L324.31 679.2L326.2 680.05L328.08 680.9L329.96 681.68L331.84 682.44L333.72 683.15L335.61 683.81L337.49 684.46L339.37 685.02ZM317.45 679.65L315.79 678.74L314.13 677.75L312.47 676.76L312.47 672.76L314.13 673.75L315.79 674.74L317.45 675.65ZM307.49 673.59L305.61 672.3L303.72 670.99L301.84 669.63L299.96 668.22L298.08 666.8L296.2 665.29L294.31 663.77L292.43 662.19L290.55 660.57L290.55 656.57L292.43 658.19L294.31 659.77L296.2 661.29L298.08 662.8L299.96 664.22L301.84 665.63L303.72 666.99L305.61 668.3L307.49 669.59ZM285.57 656.08L283.91 654.49L282.25 652.89L278.59 649.27L282.59 649.27L282.25 648.89L283.91 650.49L285.57 652.08ZM273.77 644.29L272.03 642.41L270.29 640.52L268.63 638.64L266.98 636.76L265.35 634.88L263.77 633L262.19 631.11L260.66 629.23L259.15 627.35L263.15 627.35L264.66 629.23L266.19 631.11L267.77 633L269.35 634.88L270.98 636.76L272.63 638.64L274.29 640.52L276.03 642.41L277.77 644.29ZM255.24 622.37L253.97 620.71L252.69 619.05L251.47 617.39L255.47 617.39L256.69 619.05L257.97 620.71L259.24 622.37ZM247.81 612.4L246.47 610.52L245.14 608.64L243.81 606.76L242.51 604.88L241.22 602.99L239.92 601.11L238.67 599.23L237.41 597.35L236.16 595.47L240.16 595.47L241.41 597.35L242.67 599.23L243.92 601.11L245.22 602.99L246.51 604.88L247.81 606.76L249.14 608.64L250.47 610.52L251.81 612.4ZM232.93 590.49L231.85 588.82L230.79 587.16L229.75 585.5L233.75 585.5L234.79 587.16L235.85 588.82L236.93 590.49ZM226.64 580.52L225.49 578.64L224.35 576.76L223.2 574.88L222.07 572.99L220.95 571.11L219.84 569.22L218.73 567.33L217.62 565.44L216.53 563.55L220.53 563.55L221.62 565.44L222.73 567.33L223.84 569.22L224.95 571.11L226.07 572.99L227.2 574.88L228.35 576.76L229.49 578.64L230.64 580.52ZM213.66 558.53L212.72 556.86L211.79 555.18L210.86 553.51L214.86 553.51L215.79 555.18L216.72 556.86L217.66 558.53ZM208.1 548.49L207.08 546.6L206.05 544.7L205.02 542.8L204.03 540.91L203.03 539.01L202.04 537.12L201.04 535.22L200.07 533.32L199.1 531.43L203.1 531.43L204.07 533.32L205.04 535.22L206.04 537.12L207.03 539.01L208.03 540.91L209.02 542.8L210.05 544.7L211.08 546.6L212.1 548.49ZM196.54 526.41L195.71 524.74L194.88 523.06L194.06 521.39L198.06 521.39L198.88 523.06L199.71 524.74L200.54 526.41ZM191.59 516.37L190.68 514.48L189.77 512.58L188.86 510.69L187.95 508.79L187.06 506.89L186.18 505L185.29 503.1L184.41 501.21L183.53 499.31L187.53 499.31L188.41 501.21L189.29 503.1L190.18 505L191.06 506.89L191.95 508.79L192.86 510.69L193.77 512.58L194.68 514.48L195.59 516.37ZM181.25 494.29L180.49 492.62L179.73 490.95L178.98 489.27L182.98 489.27L183.73 490.95L184.49 492.62L185.25 494.29ZM176.76 484.26L175.93 482.36L175.09 480.46L174.27 478.57L173.45 476.67L172.63 474.78L171.82 472.88L171 470.98L170.19 469.09L169.39 467.19L173.39 467.19L174.19 469.09L175 470.98L175.82 472.88L176.63 474.78L177.45 476.67L178.27 478.57L179.09 480.46L179.93 482.36L180.76 484.26ZM167.28 462.17L166.58 460.5L165.87 458.83L165.18 457.16L169.18 457.16L169.87 458.83L170.58 460.5L171.28 462.17ZM163.11 452.14L162.33 450.24L161.55 448.35L160.78 446.45L160.01 444.55L159.24 442.66L158.47 440.76L157.69 438.87L156.93 436.97L156.17 435.07L160.17 435.07L160.93 436.97L161.69 438.87L162.47 440.76L163.24 442.66L164.01 444.55L164.78 446.45L165.55 448.35L166.33 450.24L167.11 452.14ZM154.15 430.06L153.48 428.38L152.81 426.71L152.14 425.04L156.14 425.04L156.81 426.71L157.48 428.38L158.15 430.06ZM150.14 420.02L149.41 418.18L148.68 416.34L147.95 414.5L147.22 412.66L146.49 410.82L145.76 408.98L145.03 407.14L144.3 405.3L148.3 405.3L149.03 407.14L149.76 408.98L150.49 410.82L151.22 412.66L151.95 414.5L152.68 416.34L153.41 418.18L154.14 420.02Z"/>
</g>
<rect x="162.5" y="79.5" width="372" height="191" fill="#fff" stroke="#262626" stroke-width="1" shape-rendering="crispEdges"/>
<rect x="169.3" y="93" width="60.5" height="3" fill="#0000ff"/>
<path fill="#0000ff" shape-rendering="crispEdges" d="M169 116h16v3h-16zM191 116h4v3h-4zM201 116h16v3h-16zM223 116h4v3h-4z"/>
<rect x="169.3" y="138" width="60.5" height="3" fill="#ff0000"/>
<path fill="#ff0000" shape-rendering="crispEdges" d="M169 162h16v3h-16zM191 162h4v3h-4zM201 162h16v3h-16zM223 162h4v3h-4z"/>
<rect x="169.3" y="185" width="60.5" height="3" fill="#ff00ff"/>
<path fill="#ff00ff" shape-rendering="crispEdges" d="M169 208h16v3h-16zM191 208h4v3h-4zM201 208h16v3h-16zM223 208h4v3h-4z"/>
<rect x="169.3" y="230" width="60.5" height="3" fill="#00ff00"/>
<path fill="#00ff00" shape-rendering="crispEdges" d="M169 254h16v3h-16zM191 254h4v3h-4zM201 254h16v3h-16zM223 254h4v3h-4z"/>
<g font-family="'Liberation Sans', Arial, Helvetica, sans-serif" font-size="18" fill="#000" stroke="#000" stroke-width="0.3" letter-spacing="0.1">
<text x="235.91" y="101"><tspan letter-spacing="-0.6">f(x)</tspan></text>
<text x="235.77" y="124"><tspan font-size="18.72" letter-spacing="-0.39">E</tspan>xtensión impar de <tspan letter-spacing="-0.6" dx="-0.8">f(x)</tspan></text>
<text x="235.67" y="147" letter-spacing="0.16"><tspan font-size="18.72" letter-spacing="-0.33">A</tspan>proximación n=<tspan font-size="18.72" letter-spacing="-0.27">1</tspan></text>
<text x="235.77" y="170"><tspan font-size="18.72" letter-spacing="-0.39">E</tspan>xtensión impar aproximación n=<tspan font-size="18.72" letter-spacing="-0.33">1</tspan></text>
<text x="235.67" y="193" letter-spacing="0.16"><tspan font-size="18.72" letter-spacing="-0.33">A</tspan>proximación n=<tspan font-size="18.72" letter-spacing="-0.27">5</tspan></text>
<text x="235.77" y="216"><tspan font-size="18.72" letter-spacing="-0.39">E</tspan>xtensión impar aproximación n=<tspan font-size="18.72" letter-spacing="-0.33">5</tspan></text>
<text x="235.67" y="239" letter-spacing="0.16"><tspan font-size="18.72" letter-spacing="-0.33">A</tspan>proximación n=<tspan font-size="18.72" letter-spacing="-0.27">10</tspan></text>
<text x="235.77" y="262"><tspan font-size="18.72" letter-spacing="-0.39">E</tspan>xtensión impar aproximación n=<tspan font-size="18.72" letter-spacing="-0.33">10</tspan></text>
</g>
<g font-family="'Liberation Sans', Arial, Helvetica, sans-serif" font-size="21.2" letter-spacing="-0.65" fill="#262626" stroke="#262626" stroke-width="0.25">
<text x="137.4" y="776">-<tspan dx="-0.24">1</tspan></text>
<text x="215.11" y="776">-<tspan dx="0.4">0.8</tspan></text>
<text x="302.03" y="776">-<tspan dx="0.61">0.6</tspan></text>
<text x="388.26" y="776">-<tspan dx="-0.23">0.4</tspan></text>
<text x="475.15" y="776">-<tspan dx="-0.09">0.2</tspan></text>
<text x="573.65" y="776">0</text>
<text x="652.9" y="776">0.2</text>
<text x="739.75" y="776">0.4</text>
<text x="826.04" y="776">0.6</text>
<text x="913.01" y="776">0.8</text>
<text x="1007.95" y="776">1</text>
<text x="109.94" y="71">0.3</text>
<text x="109.99" y="185">0.2</text>
<text x="110.43" y="299">0.1</text>
<text x="125.78" y="413">0</text>
<text x="102.17" y="528">-<tspan dx="0.91">0.1</tspan></text>
<text x="102.18" y="642">-<tspan dx="0.31">0.2</tspan></text>
<text x="102.2" y="756">-<tspan dx="0.35">0.3</tspan></text>
</g>
<g font-family="'Liberation Sans', Arial, Helvetica, sans-serif" fill="#262626" stroke="#262626" stroke-width="0.3" font-size="22">
<g transform="translate(555,804)"><text><tspan x="0.1" textLength="13.9" lengthAdjust="spacingAndGlyphs" font-size="22.9">E</tspan><tspan x="13.9 18 30">je </tspan><tspan x="35.2" font-size="22.9">X</tspan></text></g>
<g transform="translate(91,429.6) rotate(-90)"><text><tspan x="-1" textLength="12.9" lengthAdjust="spacingAndGlyphs" font-size="22.9">E</tspan><tspan x="13.9 18 30">je </tspan><tspan x="35.4" font-size="22.9">Y</tspan></text></g>
</g>
<text x="377.55" y="55" font-family="'Liberation Sans', Arial, Helvetica, sans-serif" font-size="22" font-weight="bold" fill="#000" stroke="#000" stroke-width="0.4" letter-spacing="-0.1"><tspan font-size="22.88" letter-spacing="-0.7">A</tspan>proximación de una función continua</text>
</svg>
</body>
</html>
